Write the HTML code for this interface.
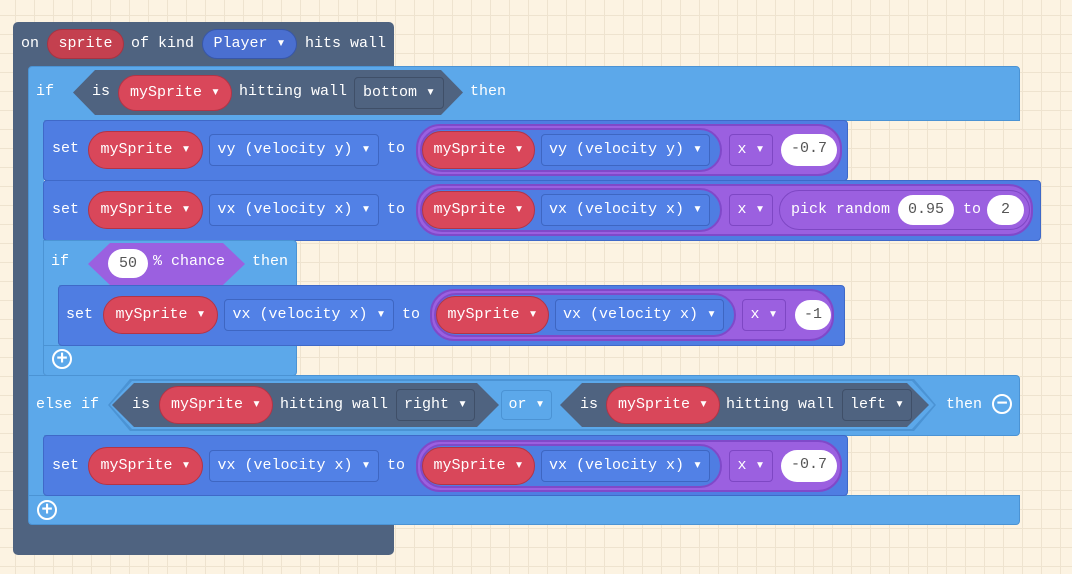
<!DOCTYPE html>
<html><head><meta charset="utf-8"><style>
*{box-sizing:border-box;margin:0;padding:0}
html,body{background:#fcf3e2}
body{width:1072px;height:574px;overflow:hidden;position:relative;
background-color:#fcf3e2;
background-image:linear-gradient(#eee3cf 1px,transparent 1px),linear-gradient(90deg,#eee3cf 1px,transparent 1px);
background-size:19px 19px;background-position:-4px -4px;
font-family:"Liberation Mono",monospace;font-size:15px;color:#fff}
div{position:absolute}
.t{white-space:pre;line-height:20px}
.ev{background:#4f6380}
.lb{background:#5ca8ea;border:1px solid #4b93d4}
.sb{background:#4f7de2;border:1px solid #3f69c8;border-radius:4px}
.pill{border-radius:24px;text-align:center;white-space:pre;line-height:34px}
.red{background:#d9475a;border:1px solid #b33446}
.dd{border:1px solid #3e66c2;background:#5281e6;border-radius:4px;white-space:pre;text-align:center;line-height:30px}
.pur{background:#9b60e0;border:2px solid #8049c9}
.purdd{border:1px solid #7e47c4;background:#9b60e0;border-radius:4px;white-space:pre;text-align:center;line-height:30px}
.wh{background:#fff;color:#555;border-radius:16px;text-align:center;line-height:30px}
.hex{clip-path:polygon(0 50%,22px 0,calc(100% - 22px) 0,100% 50%,calc(100% - 22px) 100%,22px 100%)}
.circ{border:2px solid #fff;border-radius:50%;width:20px;height:20px;text-align:center;line-height:15px;font-weight:bold;font-family:"Liberation Sans",sans-serif;font-size:19px}
</style></head><body>

<!-- event block (header, left strip, footer only) -->
<div class="ev" style="left:13px;top:22px;width:381px;height:46px;border-radius:5px 5px 0 0"></div>
<div class="ev" style="left:13px;top:66px;width:16px;height:460px"></div>
<div class="ev" style="left:13px;top:524px;width:381px;height:31px;border-radius:0 0 5px 5px"></div>
<div class="t" style="left:21px;top:34px">on</div>
<div class="pill" style="left:47px;top:29px;width:77px;height:30px;line-height:28px;background:#c4404f;border:1px solid #a83342">sprite</div>
<div class="t" style="left:131px;top:34px">of kind</div>
<div class="pill" style="left:202px;top:29px;width:95px;height:30px;line-height:28px;background:#4a6fd0;border:1px solid #3857a8">Player ▾</div>
<div class="t" style="left:305px;top:34px">hits wall</div>

<!-- big if block -->
<div class="lb" style="left:28px;top:66px;width:992px;height:55px;border-radius:4px 4px 0 0"></div>
<div class="lb" style="left:28px;top:120px;width:16px;height:256px;border-width:0 0 0 1px"></div>
<div class="lb" style="left:28px;top:375px;width:992px;height:61px;border-radius:0 4px 4px 0"></div>
<div class="lb" style="left:28px;top:435px;width:16px;height:61px;border-width:0 0 0 1px"></div>
<div class="lb" style="left:28px;top:495px;width:992px;height:30px;border-radius:0 0 4px 4px"></div>

<div class="t" style="left:36px;top:82px">if</div>
<div class="hex" style="left:73px;top:70px;width:390px;height:45px;background:#4f6380"></div>
<div class="t" style="left:92px;top:82px">is</div>
<div class="pill red" style="left:118px;top:75px;width:114px;height:36px">mySprite ▾</div>
<div class="t" style="left:239px;top:82px">hitting wall</div>
<div class="dd" style="left:354px;top:77px;width:90px;height:32px;background:#4f6380;border-color:#3f4f68">bottom ▾</div>
<div class="t" style="left:470px;top:82px">then</div>

<!-- set1 -->
<div class="sb" style="left:43px;top:120px;width:805px;height:61px"></div>
<div class="t" style="left:52px;top:139px">set</div>
<div class="pill red" style="left:88px;top:131px;width:115px;height:38px;line-height:36px">mySprite ▾</div>
<div class="dd" style="left:209px;top:134px;width:170px;height:32px">vy (velocity y) ▾</div>
<div class="t" style="left:387px;top:139px">to</div>
<div class="pill pur" style="left:416px;top:124px;width:426px;height:52px"></div>
<div class="pill" style="left:420px;top:128px;width:302px;height:44px;background:#4f7de2;border:2px solid #8049c9"></div>
<div class="pill red" style="left:422px;top:131px;width:113px;height:38px;line-height:36px">mySprite ▾</div>
<div class="dd" style="left:541px;top:134px;width:169px;height:32px">vy (velocity y) ▾</div>
<div class="purdd" style="left:729px;top:134px;width:44px;height:32px">x ▾</div>
<div class="wh" style="left:781px;top:134px;width:56px;height:32px">-0.7</div>

<!-- set2 -->
<div class="sb" style="left:43px;top:180px;width:998px;height:61px"></div>
<div class="t" style="left:52px;top:200px">set</div>
<div class="pill red" style="left:88px;top:191px;width:115px;height:38px;line-height:36px">mySprite ▾</div>
<div class="dd" style="left:209px;top:194px;width:170px;height:32px">vx (velocity x) ▾</div>
<div class="t" style="left:387px;top:200px">to</div>
<div class="pill pur" style="left:416px;top:184px;width:617px;height:52px"></div>
<div class="pill" style="left:420px;top:188px;width:302px;height:44px;background:#4f7de2;border:2px solid #8049c9"></div>
<div class="pill red" style="left:422px;top:191px;width:113px;height:38px;line-height:36px">mySprite ▾</div>
<div class="dd" style="left:541px;top:194px;width:169px;height:32px">vx (velocity x) ▾</div>
<div class="purdd" style="left:729px;top:194px;width:44px;height:32px">x ▾</div>
<div class="pill" style="left:779px;top:190px;width:251px;height:40px;background:#9b60e0;border:1px solid #7e47c4"></div>
<div class="t" style="left:791px;top:200px">pick random</div>
<div class="wh" style="left:898px;top:195px;width:56px;height:30px">0.95</div>
<div class="t" style="left:963px;top:200px">to</div>
<div class="wh" style="left:987px;top:195px;width:37px;height:30px">2</div>

<!-- inner if -->
<div class="lb" style="left:43px;top:240px;width:254px;height:46px;border-radius:0 4px 0 0"></div>
<div class="lb" style="left:43px;top:285px;width:16px;height:61px;border-width:0 0 0 1px"></div>
<div class="lb" style="left:43px;top:345px;width:254px;height:31px;border-radius:0 0 4px 4px"></div>
<div class="t" style="left:51px;top:252px">if</div>
<div class="hex" style="left:88px;top:243px;width:157px;height:42px;background:#9b60e0"></div>
<div class="wh" style="left:108px;top:249px;width:40px;height:29px">50</div>
<div class="t" style="left:153px;top:252px">% chance</div>
<div class="t" style="left:252px;top:252px">then</div>

<!-- set3 -->
<div class="sb" style="left:58px;top:285px;width:787px;height:61px"></div>
<div class="t" style="left:66px;top:305px">set</div>
<div class="pill red" style="left:103px;top:296px;width:115px;height:38px;line-height:36px">mySprite ▾</div>
<div class="dd" style="left:224px;top:299px;width:170px;height:32px">vx (velocity x) ▾</div>
<div class="t" style="left:402px;top:305px">to</div>
<div class="pill pur" style="left:430px;top:289px;width:404px;height:52px"></div>
<div class="pill" style="left:434px;top:293px;width:302px;height:44px;background:#4f7de2;border:2px solid #8049c9"></div>
<div class="pill red" style="left:436px;top:296px;width:113px;height:38px;line-height:36px">mySprite ▾</div>
<div class="dd" style="left:555px;top:299px;width:169px;height:32px">vx (velocity x) ▾</div>
<div class="purdd" style="left:742px;top:299px;width:44px;height:32px">x ▾</div>
<div class="wh" style="left:795px;top:300px;width:36px;height:30px">-1</div>
<div class="circ" style="left:52px;top:349px">+</div>

<!-- else if -->
<div class="t" style="left:36px;top:395px">else if</div>
<div class="hex" style="left:108px;top:379px;width:828px;height:52px;background:#4b93d4"></div>
<div class="hex" style="left:110px;top:381px;width:824px;height:48px;background:#5ca8ea"></div>
<div class="hex" style="left:112px;top:383px;width:387px;height:44px;background:#4f6380"></div>
<div class="t" style="left:132px;top:395px">is</div>
<div class="pill red" style="left:159px;top:386px;width:114px;height:38px;line-height:36px">mySprite ▾</div>
<div class="t" style="left:280px;top:395px">hitting wall</div>
<div class="dd" style="left:396px;top:389px;width:79px;height:32px;background:#4f6380;border-color:#3f4f68">right ▾</div>
<div class="dd" style="left:501px;top:390px;width:51px;height:30px;line-height:28px;background:#5ca8ea;border-color:#4b93d4">or ▾</div>
<div class="hex" style="left:560px;top:383px;width:369px;height:44px;background:#4f6380"></div>
<div class="t" style="left:580px;top:395px">is</div>
<div class="pill red" style="left:606px;top:386px;width:114px;height:38px;line-height:36px">mySprite ▾</div>
<div class="t" style="left:726px;top:395px">hitting wall</div>
<div class="dd" style="left:842px;top:389px;width:70px;height:32px;background:#4f6380;border-color:#3f4f68">left ▾</div>
<div class="t" style="left:946px;top:395px">then</div>
<div class="circ" style="left:992px;top:394px">−</div>

<!-- set4 -->
<div class="sb" style="left:43px;top:435px;width:805px;height:61px"></div>
<div class="t" style="left:52px;top:456px">set</div>
<div class="pill red" style="left:88px;top:447px;width:115px;height:38px;line-height:36px">mySprite ▾</div>
<div class="dd" style="left:209px;top:450px;width:170px;height:32px">vx (velocity x) ▾</div>
<div class="t" style="left:387px;top:456px">to</div>
<div class="pill pur" style="left:416px;top:440px;width:426px;height:52px"></div>
<div class="pill" style="left:420px;top:444px;width:302px;height:44px;background:#4f7de2;border:2px solid #8049c9"></div>
<div class="pill red" style="left:422px;top:447px;width:113px;height:38px;line-height:36px">mySprite ▾</div>
<div class="dd" style="left:541px;top:450px;width:169px;height:32px">vx (velocity x) ▾</div>
<div class="purdd" style="left:729px;top:450px;width:44px;height:32px">x ▾</div>
<div class="wh" style="left:781px;top:450px;width:56px;height:32px">-0.7</div>
<div class="circ" style="left:37px;top:500px">+</div>

</body></html>
